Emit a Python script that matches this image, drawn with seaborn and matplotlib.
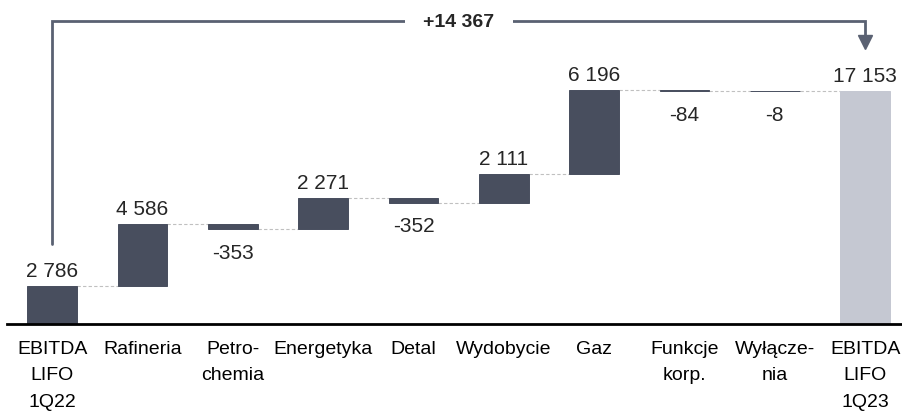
import matplotlib.pyplot as plt
import numpy as np
import pandas as pd
import seaborn as sns

categories = [
    "EBITDA\nLIFO\n1Q22",
    "Rafineria",
    "Petro-\nchemia",
    "Energetyka",
    "Detal",
    "Wydobycie",
    "Gaz",
    "Funkcje\nkorp.",
    "Wyłącze-\nnia",
    "EBITDA\nLIFO\n1Q23",
]
start_value = 2786
changes = [4586, -353, 2271, -352, 2111, 6196, -84, -8]
end_value = 17153
total_change_label = "+14 367"

DARK = "#484E5E"
LIGHT = "#C5C8D2"
ARROW = "#5A6172"
CONNECTOR = "#C0C0C0"
BAR_WIDTH = 0.55


def fmt(v):
    return f"{v:,}".replace(",", " ")


def show_waterfall():
    running = np.cumsum([start_value] + changes)
    heights = [start_value] + changes + [end_value]
    bottoms = [0] + list(running[:-1]) + [0]
    df = pd.DataFrame({"category": categories, "height": heights})

    sns.set_style("white")
    plt.rcParams["font.family"] = ["Liberation Sans", "DejaVu Sans"]

    fig = plt.figure(figsize=(9.03, 4.14), dpi=100)
    ax = fig.add_axes([7 / 903, 89 / 414, 896 / 903, 325 / 414])

    sns.barplot(
        data=df,
        x="category",
        y="height",
        order=categories,
        bottom=bottoms,
        color=DARK,
        saturation=1,
        width=BAR_WIDTH,
        errorbar=None,
        linewidth=0,
        ax=ax,
    )
    # thin edge so the tiny bars (-84, -8) still show up as a line
    for p in ax.patches:
        p.set_edgecolor(DARK)
        p.set_linewidth(0.7)
    ax.patches[-1].set_facecolor(LIGHT)
    ax.patches[-1].set_edgecolor(LIGHT)

    # dashed connectors between bars
    half = BAR_WIDTH / 2
    for i, level in enumerate(running):
        ax.plot(
            [i + half, i + 1 - half],
            [level, level],
            color=CONNECTOR,
            lw=0.8,
            ls=(0, (3, 2)),
            zorder=0,
        )

    # value labels
    for i, (h, b) in enumerate(zip(heights, bottoms)):
        if h >= 0:
            ax.annotate(
                fmt(h), (i, b + h), xytext=(0, 7), textcoords="offset points",
                ha="center", va="baseline", fontsize=15,
            )
        else:
            ax.annotate(
                fmt(h), (i, b + h), xytext=(0, -10), textcoords="offset points",
                ha="center", va="top", fontsize=15,
            )

    # total change bracket
    n = len(categories) - 1
    ax.plot(
        [0, 0, n, n],
        [5900, 22300, 22300, 21150],
        color=ARROW,
        lw=2,
        solid_joinstyle="miter",
        clip_on=False,
    )
    ax.plot([n], [20760], marker="v", ms=10, color=ARROW, clip_on=False)
    ax.text(
        n / 2, 22300, total_change_label,
        ha="center", va="center", fontsize=14, fontweight="bold",
        bbox=dict(fc="white", ec="none", boxstyle="square,pad=0.95"),
    )

    ax.set_xlim(-0.5, 9.42)
    ax.set_ylim(0, 23926)
    ax.set_xticks(range(len(categories)))
    ax.set_xticklabels(categories, fontsize=14, linespacing=1.72)
    ax.tick_params(axis="x", length=0, pad=11.5, colors="black")
    ax.set_yticks([])
    ax.set_xlabel("")
    ax.set_ylabel("")
    for side in ["left", "right", "top"]:
        ax.spines[side].set_visible(False)
    ax.spines["bottom"].set_color("black")
    ax.spines["bottom"].set_linewidth(2)

    fig.savefig("out.png", dpi=100)


if __name__ == "__main__":
    show_waterfall()
